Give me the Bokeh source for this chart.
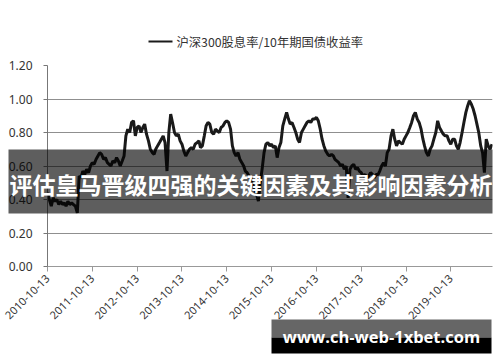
from datetime import datetime
import math
from bokeh.plotting import figure
from bokeh.core.properties import value
from bokeh.models import (Range1d, FixedTicker, DatetimeTickFormatter, NumeralTickFormatter,
                          ColumnDataSource)
from bokeh.embed import file_html
from bokeh.resources import INLINE

series_name = "沪深300股息率/10年期国债收益率"
banner_text = "评估皇马晋级四强的关键因素及其影响因素分析"
watermark_text = "www.ch-web-1xbet.com"

tick_labels = ["2010-10-13", "2011-10-13", "2012-10-13", "2013-10-13", "2014-10-13",
               "2015-10-13", "2016-10-13", "2017-10-13", "2018-10-13", "2019-10-13"]
y_ticks = [0.0, 0.2, 0.4, 0.6, 0.8, 1.0, 1.2]

# semi-monthly readings (13th and 28th of each month) starting 2010-10-13
ratio = [
    0.44, 0.40, 0.36, 0.41, 0.39, 0.40, 0.37, 0.39, 0.37, 0.38,
    0.36, 0.39, 0.37, 0.38, 0.37, 0.36, 0.32, 0.54, 0.53, 0.57,
    0.55, 0.58, 0.56, 0.60, 0.62, 0.61, 0.64, 0.66, 0.68, 0.67,
    0.64, 0.65, 0.62, 0.61, 0.60, 0.63, 0.62, 0.65, 0.63, 0.60,
    0.63, 0.66, 0.78, 0.82, 0.80, 0.86, 0.87, 0.78, 0.83, 0.84,
    0.80, 0.83, 0.85, 0.79, 0.75, 0.70, 0.68, 0.67, 0.70, 0.72,
    0.74, 0.76, 0.78, 0.74, 0.57, 0.80, 0.91, 0.86, 0.80, 0.78,
    0.79, 0.75, 0.73, 0.69, 0.66, 0.68, 0.70, 0.71, 0.70, 0.73,
    0.74, 0.75, 0.71, 0.72, 0.78, 0.84, 0.86, 0.85, 0.80, 0.79,
    0.82, 0.81, 0.80, 0.83, 0.84, 0.86, 0.87, 0.86, 0.82, 0.72,
    0.68, 0.66, 0.68, 0.64, 0.62, 0.60, 0.57, 0.56, 0.54, 0.53,
    0.49, 0.46, 0.43, 0.39, 0.50, 0.58, 0.68, 0.73, 0.74, 0.72,
    0.73, 0.71, 0.72, 0.65, 0.71, 0.74, 0.84, 0.88, 0.92, 0.88,
    0.85, 0.86, 0.83, 0.80, 0.76, 0.74, 0.80, 0.82, 0.84, 0.86,
    0.87, 0.86, 0.88, 0.88, 0.89, 0.87, 0.82, 0.76, 0.72, 0.69,
    0.67, 0.66, 0.67, 0.66, 0.64, 0.63, 0.62, 0.60, 0.61, 0.58,
    0.60, 0.41, 0.58, 0.60, 0.61, 0.58, 0.59, 0.57, 0.56, 0.54,
    0.55, 0.53, 0.54, 0.56, 0.55, 0.53, 0.55, 0.55, 0.57, 0.60,
    0.62, 0.60, 0.68, 0.70, 0.78, 0.82, 0.76, 0.72, 0.75, 0.74,
    0.73, 0.76, 0.78, 0.80, 0.83, 0.86, 0.90, 0.92, 0.88, 0.86,
    0.82, 0.76, 0.72, 0.68, 0.66, 0.70, 0.72, 0.76, 0.80, 0.87,
    0.83, 0.81, 0.79, 0.78, 0.78, 0.75, 0.73, 0.76, 0.76, 0.72,
    0.70, 0.74, 0.80, 0.86, 0.92, 0.96, 0.99, 0.97, 0.94, 0.90,
    0.85, 0.80, 0.72, 0.68, 0.56, 0.76, 0.72, 0.70, 0.73,
]

dates = []
for i in range(len(ratio)):
    m = 9 + i // 2
    dates.append(datetime(2010 + m // 12, m % 12 + 1, 13 if i % 2 == 0 else 28))

source = ColumnDataSource(data=dict(date=dates, ratio=ratio))

X0, X1 = datetime(2010, 10, 13), datetime(2020, 9, 17)
Y0, Y1 = 0.0, 1.2
FL, FR, FT, FB = 47, 492, 65, 266  # frame edges in page pixels

p = figure(width=500, height=362, output_backend="svg", toolbar_location=None,
           x_axis_type="datetime",
           x_range=Range1d(X0, X1), y_range=Range1d(Y0, Y1),
           min_border_left=FL, min_border_right=500 - FR,
           min_border_top=FT, min_border_bottom=362 - FB)
p.outline_line_color = None
p.background_fill_color = "white"
p.border_fill_color = "white"

r = p.line("date", "ratio", source=source, line_color="#1a1a1a", line_width=3)

tick_ms = [datetime.strptime(t, "%Y-%m-%d").timestamp() * 1000 for t in tick_labels]
p.xaxis.ticker = FixedTicker(ticks=tick_ms)
fmt = "%Y-%m-%d"
p.xaxis.formatter = DatetimeTickFormatter(milliseconds=fmt, seconds=fmt, minsec=fmt, minutes=fmt,
                                          hourmin=fmt, hours=fmt, days=fmt, months=fmt, years=fmt)
p.xaxis.major_label_orientation = math.pi / 4
p.xaxis.major_label_text_font = "Noto Sans"
p.xaxis.major_label_text_font_size = "11px"
p.xaxis.major_label_text_color = "#333333"
p.xaxis.axis_line_color = "#999999"
p.xaxis.major_tick_line_color = "#999999"
p.xaxis.major_tick_out = 5
p.xaxis.major_tick_in = 0
p.xaxis.minor_tick_line_color = None

p.yaxis.ticker = FixedTicker(ticks=y_ticks)
p.yaxis.formatter = NumeralTickFormatter(format="0.00")
p.yaxis.major_label_text_font = "Noto Sans"
p.yaxis.major_label_text_font_size = "12px"
p.yaxis.major_label_text_color = "#333333"
p.yaxis.major_label_standoff = 11
p.yaxis.axis_line_color = "#777777"
p.yaxis.major_tick_line_color = "#777777"
p.yaxis.major_tick_out = 4
p.yaxis.major_tick_in = 0
p.yaxis.minor_tick_line_color = None

p.xgrid.grid_line_color = None
p.ygrid.grid_line_color = "#8f8f8f"
p.ygrid.grid_line_width = 1


def px_x(px):
    return X0 + (X1 - X0) * ((px - FL) / (FR - FL))


def px_y(py):
    return Y0 + (Y1 - Y0) * ((FB - py) / (FB - FT))


# legend drawn above the frame (overlay level so it is not clipped)
p.line(x=[px_x(148), px_x(172)], y=[px_y(41), px_y(41)], line_color="#1a1a1a",
       line_width=2, level="overlay")
p.text(x=[px_x(176)], y=[px_y(41)], text=[series_name],
       text_font=value("Noto Sans CJK SC"), text_font_size="12.3px", text_color="#333333",
       text_align="left", text_baseline="middle", level="overlay")

# overlay banner
p.quad(left=[px_x(8)], right=[px_x(492)], bottom=[px_y(213)], top=[px_y(149)],
       fill_color="black", fill_alpha=0.63, line_color=None, level="overlay")
p.text(x=[px_x(9)], y=[px_y(183)], text=[banner_text],
       text_font=value("Noto Sans CJK SC"), text_font_style="bold", text_font_size="23px",
       text_color="white", text_align="left", text_baseline="middle", level="overlay")

# watermark
p.quad(left=[px_x(271)], right=[px_x(491)], bottom=[px_y(337)], top=[px_y(319)],
       fill_color="#666666", line_color=None, level="overlay")
p.quad(left=[px_x(271)], right=[px_x(491)], bottom=[px_y(353)], top=[px_y(337)],
       fill_color="black", line_color=None, level="overlay")
p.text(x=[px_x(381)], y=[px_y(336)], text=[watermark_text],
       text_font=value("Open Sans"), text_font_style="bold", text_font_size="16.5px",
       text_color="white", text_align="center", text_baseline="middle", level="overlay")

open("out.html", "w").write(file_html(p, INLINE))
